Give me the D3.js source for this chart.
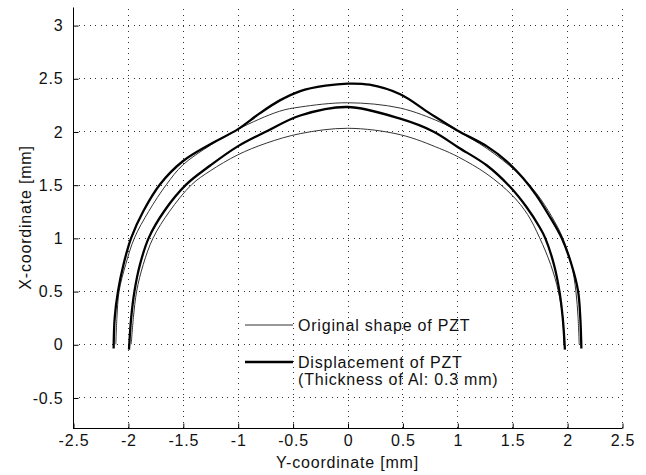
<!DOCTYPE html>
<html>
<head>
<meta charset="utf-8">
<script src="https://cdn.jsdelivr.net/npm/d3@7"></script>
<style>
  body { margin: 0; background: #fff; }
  text { font-family: "Liberation Sans", Arial, sans-serif; fill: #111; letter-spacing: 0.8px; }
</style>
</head>
<body>
<div id="chart"></div>
<script>
// PZT shape vs. displacement

const xTicks = [-2.5, -2, -1.5, -1, -0.5, 0, 0.5, 1, 1.5, 2, 2.5];
const yTicks = [-0.5, 0, 0.5, 1, 1.5, 2, 2.5, 3];

// original shape of PZT (thin lines), outer and inner contour: [y-coord, x-coord]
const originalOuter = [
    [-2.11, 0.0], [-2.10, 0.25], [-2.08, 0.5], [-2.02, 0.75], [-1.94, 1.0],
    [-1.81, 1.25], [-1.65, 1.5], [-1.5, 1.685], [-1.25, 1.87], [-1.0, 2.02],
    [-0.62, 2.19], [-0.43, 2.23], [0, 2.27], [0.48, 2.22], [0.84, 2.09],
    [1.01, 2.0], [1.27, 1.84], [1.54, 1.62], [1.72, 1.42], [1.86, 1.2],
    [1.96, 1.0], [2.04, 0.75], [2.08, 0.5], [2.10, 0.25], [2.11, 0.0]
];
const originalInner = [
    [-1.97, 0.0], [-1.95, 0.25], [-1.92, 0.5], [-1.86, 0.75], [-1.77, 1.0],
    [-1.62, 1.25], [-1.42, 1.5], [-1.25, 1.63], [-1.0, 1.78], [-0.74, 1.89],
    [-0.43, 1.98], [0, 2.03], [0.48, 1.97], [0.84, 1.84], [1.01, 1.76],
    [1.27, 1.60], [1.50, 1.40], [1.64, 1.22], [1.75, 1.0], [1.85, 0.75],
    [1.92, 0.5], [1.96, 0.25], [1.97, 0.0]
];

// displacement of PZT, Al thickness 0.3 mm (thick lines)
const displacedOuter = [
    [-2.13, -0.04], [-2.12, 0.25], [-2.09, 0.5], [-2.04, 0.75], [-1.97, 1.0],
    [-1.86, 1.25], [-1.71, 1.5], [-1.5, 1.72], [-1.25, 1.88], [-1.0, 2.02],
    [-0.8, 2.17], [-0.62, 2.29], [-0.43, 2.38], [-0.2, 2.43], [0, 2.45],
    [0.2, 2.44], [0.48, 2.35], [0.75, 2.17], [1.0, 2.01], [1.27, 1.86],
    [1.45, 1.72], [1.6, 1.56], [1.72, 1.40], [1.83, 1.22], [1.95, 1.0],
    [2.04, 0.75], [2.10, 0.5], [2.12, 0.25], [2.13, -0.04]
];
const displacedInner = [
    [-1.99, -0.05], [-1.97, 0.25], [-1.94, 0.5], [-1.89, 0.75], [-1.81, 1.0],
    [-1.67, 1.25], [-1.47, 1.5], [-1.25, 1.68], [-1.0, 1.86], [-0.74, 2.0],
    [-0.43, 2.15], [0, 2.23], [0.48, 2.12], [0.78, 2.0], [1.01, 1.85],
    [1.27, 1.68], [1.48, 1.48], [1.63, 1.29], [1.75, 1.1], [1.80, 1.0],
    [1.88, 0.75], [1.93, 0.5], [1.96, 0.25], [1.98, -0.05]
];

const legendLabels = [
    ['Original shape of PZT'],
    ['Displacement of PZT', '(Thickness of Al: 0.3 mm)']
];

const W = 646, H = 475;
const plot = { left: 73, right: 622, top: 7, bottom: 428 };

const svg = d3.select('#chart')
    .append('svg')
    .attr('width', W)
    .attr('height', H);

const x = d3.scaleLinear()
    .domain([-2.5, 2.5])
    .range([plot.left, plot.right]);

const y = d3.scaleLinear()
    .domain([-0.787, 3.17])
    .range([plot.bottom, plot.top]);

// dotted grid
const grid = svg.append('g')
    .attr('stroke', '#333')
    .attr('stroke-width', 1)
    .attr('stroke-dasharray', '1,4.5')
    .attr('shape-rendering', 'crispEdges');

grid.selectAll('.vgrid')
    .data(xTicks)
    .enter()
    .append('line')
    .attr('x1', d => Math.round(x(d)) + 0.5)
    .attr('x2', d => Math.round(x(d)) + 0.5)
    .attr('y1', plot.bottom)
    .attr('y2', plot.top);

grid.selectAll('.hgrid')
    .data(yTicks)
    .enter()
    .append('line')
    .attr('x1', plot.left)
    .attr('x2', plot.right)
    .attr('y1', d => Math.round(y(d)) + 0.5)
    .attr('y2', d => Math.round(y(d)) + 0.5);

// axes, ticks pointing inward like matlab
const xAxis = svg.append('g')
    .attr('transform', `translate(0.5,${plot.bottom + 0.5})`)
    .call(d3.axisBottom(x)
        .tickValues(xTicks)
        .tickSizeInner(-5)
        .tickSizeOuter(0)
        .tickPadding(12)
        .tickFormat(d => String(d)));

const yAxis = svg.append('g')
    .attr('transform', `translate(${plot.left + 0.5},0.5)`)
    .call(d3.axisLeft(y)
        .tickValues(yTicks)
        .tickSizeInner(-5)
        .tickSizeOuter(0)
        .tickPadding(10)
        .tickFormat(d => String(d)));

[xAxis, yAxis].forEach(a => {
    a.selectAll('text')
        .style('font-size', '16px')
        .attr('fill', '#111');
    a.selectAll('line').attr('stroke', '#000');
    a.select('.domain').attr('stroke', '#000');
});
xAxis.selectAll('text').attr('dy', '0.71em').attr('y', 6);
yAxis.select('.domain').attr('d', `M0,${plot.bottom - 0.5}V${plot.top}`);
xAxis.select('.domain').attr('d', `M${plot.left - 0.5},0H${plot.right}`);

// curves
const line = d3.line()
    .x(d => x(d[0]))
    .y(d => y(d[1]))
    .curve(d3.curveCatmullRom.alpha(0.5));

const series = [
    { pts: originalOuter, width: 1, color: '#333' },
    { pts: originalInner, width: 1, color: '#333' },
    { pts: displacedOuter, width: 2.3, color: '#000' },
    { pts: displacedInner, width: 2.3, color: '#000' }
];

svg.selectAll('.curve')
    .data(series)
    .enter()
    .append('path')
    .attr('class', 'curve')
    .attr('d', d => line(d.pts))
    .attr('fill', 'none')
    .attr('stroke', d => d.color)
    .attr('stroke-width', d => d.width)
    .attr('stroke-linejoin', 'round');

// axis labels
svg.append('text')
    .attr('x', (plot.left + plot.right) / 2)
    .attr('y', 468)
    .attr('text-anchor', 'middle')
    .style('font-size', '16px')
    .text('Y-coordinate [mm]');

svg.append('text')
    .attr('transform', 'rotate(-90)')
    .attr('x', -(plot.top + plot.bottom) / 2)
    .attr('y', 31)
    .attr('text-anchor', 'middle')
    .style('font-size', '16px')
    .text('X-coordinate [mm]');

// legend (no box)
const legend = svg.selectAll('.legend')
    .data(legendLabels)
    .enter()
    .append('g')
    .attr('class', 'legend')
    .attr('transform', (d, i) => `translate(245,${i === 0 ? 325 : 362})`);

legend.append('line')
    .attr('x1', 0)
    .attr('x2', 48)
    .attr('y1', 0)
    .attr('y2', 0)
    .attr('stroke', (d, i) => series[i * 2].color)
    .attr('stroke-width', (d, i) => series[i * 2].width);

legend.append('text')
    .attr('x', 53)
    .attr('y', 6)
    .style('font-size', '16px')
    .selectAll('tspan')
    .data(d => d)
    .enter()
    .append('tspan')
    .attr('x', 53)
    .attr('dy', (d, i) => i === 0 ? 0 : 17)
    .text(d => d);
</script>
</body>
</html>
